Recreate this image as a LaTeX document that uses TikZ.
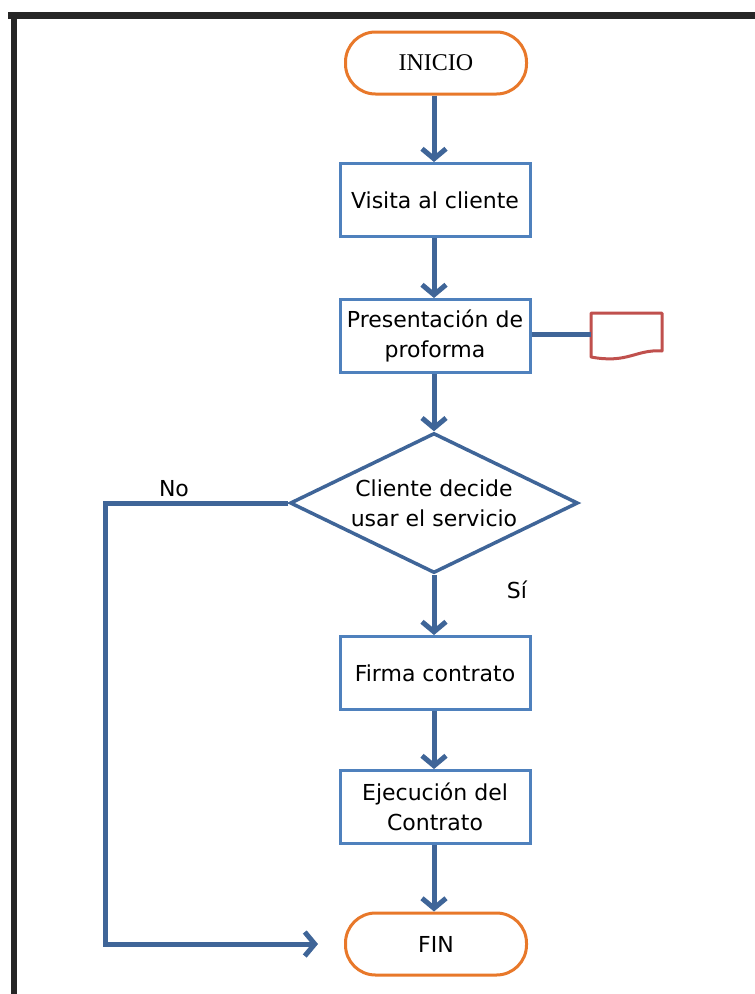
\documentclass[tikz,border=0pt]{standalone}
\usepackage{fontspec}
\setmainfont{DejaVu Sans}
\newfontfamily\serifx{Liberation Serif}
\usetikzlibrary{shapes.geometric,arrows.meta}
\definecolor{boxblue}{HTML}{4F81BD}
\definecolor{arrblue}{HTML}{3F6598}
\definecolor{termorange}{HTML}{E8782A}
\definecolor{docred}{HTML}{C0504D}
\definecolor{frameblack}{HTML}{262626}
\begin{document}
\begin{tikzpicture}[x=1pt,y=-1pt,
  font=\fontsize{22}{30}\selectfont,
  procbox/.style={draw=boxblue, line width=3pt, fill=white, minimum width=190pt, minimum height=73pt, align=center, inner sep=2pt},
  termbox/.style={draw=termorange, line width=3pt, fill=white, rounded corners=30pt, minimum width=181pt, minimum height=62pt, inner sep=2pt},
  decbox/.style={draw=arrblue, line width=3.5pt, fill=white, diamond, minimum width=288pt, minimum height=140pt, inner sep=0pt},
  arr/.style={draw=arrblue, line width=5pt, -{Straight Barb[length=10pt,width=24pt]}},
  plain/.style={draw=arrblue, line width=5pt},
  lbl/.style={inner sep=0pt}
]
\useasboundingbox (0,0) rectangle (755,994);
% frame
\fill[frameblack] (8,12) rectangle (755,19);
\fill[frameblack] (11,12) rectangle (17,994);

% nodes
\node[termbox] (inicio) at (436,63) {\fontsize{24}{30}\selectfont\serifx INICIO};
\node[procbox] (visita) at (435,200) {Visita al cliente};
\node[procbox] (pres) at (435,336) {Presentación de\\proforma};
\node[decbox] (dec) at (434,503) {};
\node[align=center, inner sep=0pt] (dectext) at (dec.center) {Cliente decide\\usar el servicio};
\node[procbox] (firma) at (435,673) {Firma contrato};
\node[procbox] (ejec) at (435,807) {Ejecución del\\Contrato};
\node[termbox] (fin) at (436,944) {FIN};

% document symbol
\draw[docred, line width=3pt, fill=white, line join=round]
  (591,313) -- (662,313) -- (662,351)
  .. controls (636,349) and (628,364) .. (591,357) -- cycle;
\coordinate (doc) at (591,334);

% connectors
\draw[arr] (inicio.south -| dec.north) -- (visita.north -| dec.north);
\draw[arr] (visita.south -| dec.north) -- (pres.north -| dec.north);
\draw[arr] (pres.south -| dec.north) -- (dec.north);
\draw[arr] (dec.south) -- (firma.north -| dec.south);
\draw[arr] (firma.south -| dec.south) -- (ejec.north -| dec.south);
\draw[arr] (ejec.south -| dec.south) -- (fin.north -| dec.south);
\draw[plain] (pres.east |- doc) -- (doc);
\draw[arr, shorten >=26pt] (dec.west) -| (105,944) -- (fin.west);

% labels
\node[lbl] (no) at (174,489) {No};
\node[lbl] (si) at (517,590) {Sí};
\end{tikzpicture}
\end{document}
